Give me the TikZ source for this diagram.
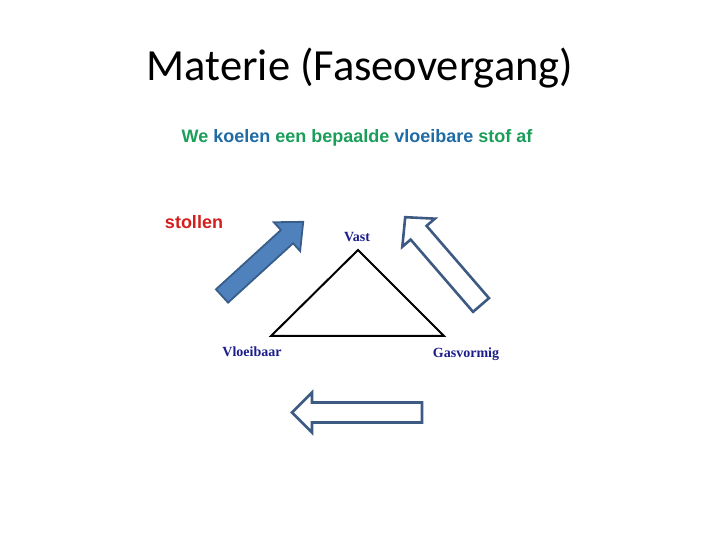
\documentclass[tikz,border=0pt]{standalone}
\usepackage{fontspec}
\setmainfont{Liberation Sans}
\newfontfamily\titlefont{Carlito}
\newfontfamily\labelfont{Liberation Serif}
\definecolor{subgreen}{HTML}{1A9E5A}
\definecolor{subblue}{HTML}{1F6BA5}
\definecolor{stolred}{HTML}{D41E1E}
\definecolor{navy}{HTML}{1C1C8C}
\definecolor{arrfill}{HTML}{4F81BD}
\definecolor{arrline}{HTML}{385D8A}
\definecolor{arrline2}{HTML}{3C5A82}
\newcommand{\myfatarrow}[4]{% length, shaft width, head width, head length
  (0,-#2/2) -- (#1-#4,-#2/2) -- (#1-#4,-#3/2) -- (#1,0) -- (#1-#4,#3/2) -- (#1-#4,#2/2) -- (0,#2/2) -- cycle}
\tikzset{
  phase/.style={font=\labelfont\bfseries\fontsize{14}{16}\selectfont, text=navy, inner sep=0pt},
  solidarrow/.style={draw=arrline, fill=arrfill, line width=1.8pt, line join=miter},
  hollowarrow/.style={draw=arrline2, fill=white, line width=2.6pt, line join=miter},
}
\begin{document}
\begin{tikzpicture}[x=1pt,y=1pt]
\useasboundingbox (0,0) rectangle (720,540);
\node (title) at (360,472) {\titlefont\fontsize{44.5}{52}\selectfont Materie (Faseovergang)};
\node (sub) at (357,402) {\bfseries\fontsize{18}{21}\selectfont
  \textcolor{subgreen}{We} \textcolor{subblue}{koelen} \textcolor{subgreen}{een bepaalde} \textcolor{subblue}{vloeibare} \textcolor{subgreen}{stof af}};
\node[text=stolred, font=\bfseries\fontsize{18}{21}\selectfont] (stollen) at (194,318) {stollen};
% triangle
\coordinate (vtop) at (358,290);
\coordinate (vleft) at (271,204);
\coordinate (vright) at (444,204);
\draw[line width=2pt, line join=miter] (vtop) -- (vright) -- (vleft) -- cycle;
\node[phase] (vast) at (357,303) {Vast};
\node[phase] (vloei) at (252,188) {Vloeibaar};
\node[phase] (gas) at (466,186) {Gasvormig};
% arrows
\coordinate (a1tail) at (222,244);
\coordinate (a2tail) at (481,235);
\coordinate (a3tail) at (422,127.5);
\begin{scope}[shift={(a1tail)}, rotate=42.4]
  \draw[solidarrow] \myfatarrow{110}{18}{39}{22};
\end{scope}
\begin{scope}[shift={(a2tail)}, rotate=130.8]
  \draw[hollowarrow] \myfatarrow{116}{21}{43}{20.5};
\end{scope}
\begin{scope}[shift={(a3tail)}, rotate=180]
  \draw[hollowarrow] \myfatarrow{130}{20}{40}{20};
\end{scope}
\end{tikzpicture}
\end{document}
